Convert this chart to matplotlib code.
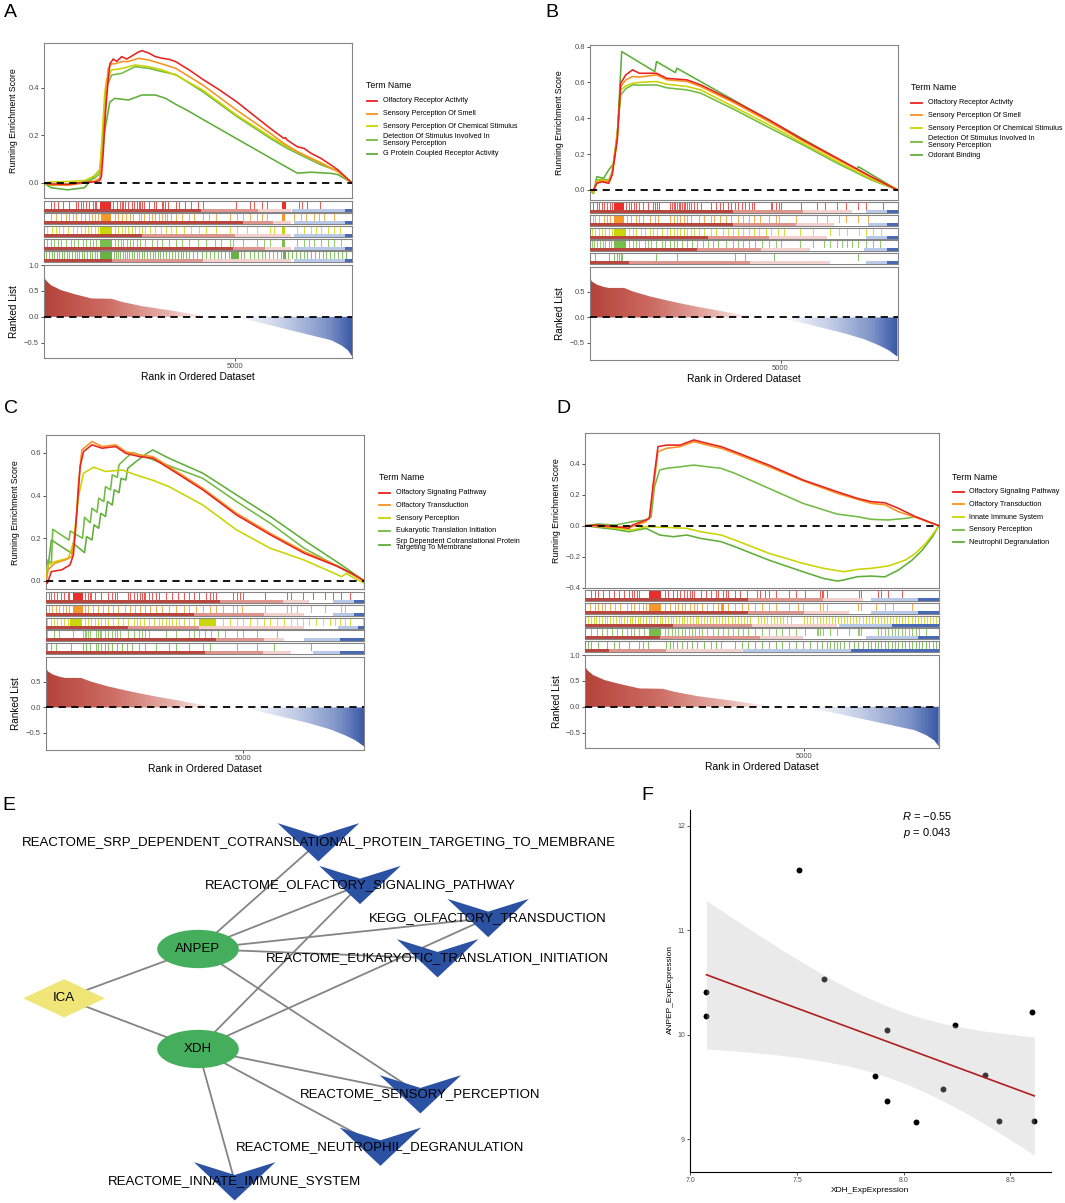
import numpy as np
import matplotlib
matplotlib.use('Agg')
import matplotlib.pyplot as plt
from matplotlib import font_manager as fm
from matplotlib.patches import Polygon, Ellipse, Rectangle
from matplotlib.lines import Line2D
from matplotlib.colors import LinearSegmentedColormap
from matplotlib.ticker import FuncFormatter

# ------------------------------------------------------------------ data
N_RANK = 8070
SET_COLORS = ['#E8231F', '#F7931E', '#C9D400', '#72BB43', '#5FAE3A']

A_terms = ["Olfactory Receptor Activity", "Sensory Perception Of Smell",
           "Sensory Perception Of Chemical Stimulus",
           "Detection Of Stimulus Involved In\nSensory Perception",
           "G Protein Coupled Receptor Activity"]
B_terms = ["Olfactory Receptor Activity", "Sensory Perception Of Smell",
           "Sensory Perception Of Chemical Stimulus",
           "Detection Of Stimulus Involved In\nSensory Perception",
           "Odorant Binding"]
C_terms = ["Olfactory Signaling Pathway", "Olfactory Transduction", "Sensory Perception",
           "Eukaryotic Translation Initiation",
           "Srp Dependent Cotranslational Protein\nTargeting To Membrane"]
D_terms = ["Olfactory Signaling Pathway", "Olfactory Transduction", "Innate Immune System",
           "Sensory Perception", "Neutrophil Degranulation"]

# running enrichment score curves (rank, ES)
A_es_x = [
    [0,177,619,1062,1327,1460,1504,1549,1593,1637,1681,1726,1814,1903,2035,2168,2345,2478,2566,2743,2920,3097,3274,3451,3805,4159,4601,5044,5486,5929,6283,6327,6371,6637,6814,6991,7256,7522,7699,8070],
    [0,177,619,1062,1327,1460,1549,1637,1681,1770,1858,2035,2212,2478,2743,3097,3451,3805,4159,5044,5929,6283,6637,7256,7699,8070],
    [0,177,619,1062,1327,1460,1504,1593,1637,1770,2035,2389,2743,3097,3451,4159,5044,5929,6371,6814,7256,7699,8070],
    [0,177,619,1062,1327,1460,1549,1637,1770,2035,2389,2743,3097,3451,4159,5044,5929,6371,6814,7256,7699,8070],
    [0,177,619,1062,1327,1460,1504,1593,1726,1858,2212,2566,2920,3186,3451,3805,4159,5044,5929,6371,6637,6991,7522,7699,8070]]
A_es_y = [
    [0,-0.004,-0.006,0.002,0.004,0.010,0.027,0.12,0.25,0.35,0.43,0.50,0.52,0.51,0.53,0.52,0.537,0.55,0.555,0.545,0.53,0.523,0.519,0.509,0.474,0.435,0.39,0.341,0.285,0.229,0.187,0.19,0.18,0.152,0.145,0.125,0.103,0.075,0.055,0],
    [0,-0.008,-0.01,0.0,0.008,0.02,0.15,0.40,0.48,0.50,0.50,0.509,0.51,0.523,0.516,0.499,0.481,0.446,0.411,0.306,0.208,0.166,0.131,0.083,0.048,0],
    [0,0.004,0.006,0.01,0.03,0.055,0.15,0.38,0.43,0.474,0.48,0.495,0.488,0.474,0.453,0.39,0.285,0.194,0.152,0.117,0.085,0.048,0],
    [0,-0.01,-0.005,0.005,0.02,0.04,0.20,0.40,0.453,0.46,0.488,0.481,0.467,0.455,0.383,0.28,0.187,0.145,0.11,0.076,0.05,0],
    [0,-0.02,-0.029,-0.02,0.03,0.055,0.083,0.22,0.34,0.355,0.348,0.369,0.369,0.355,0.33,0.30,0.267,0.186,0.105,0.065,0.041,0.045,0.04,0.035,0]]

B_rank_common = [0,89,179,313,492,582,716,805,939,1118,1297,1745,2013,2550,2908,3802,4697,5592,6487,7381,8070]
B_es_x = [B_rank_common, B_rank_common, B_rank_common, B_rank_common,
          [0,89,179,358,492,626,716,832,1700,1745,2237,2281,7006,7041,8070]]
B_es_y = [
    [0,0.0,0.037,0.046,0.037,0.084,0.28,0.595,0.642,0.67,0.651,0.651,0.623,0.614,0.586,0.493,0.391,0.279,0.177,0.074,0],
    [0,-0.01,0.045,0.05,0.045,0.09,0.30,0.577,0.614,0.633,0.63,0.642,0.615,0.605,0.577,0.484,0.381,0.273,0.171,0.071,0],
    [0,-0.015,0.05,0.055,0.05,0.095,0.31,0.558,0.58,0.595,0.6,0.605,0.59,0.577,0.558,0.461,0.363,0.26,0.158,0.061,0],
    [0,-0.02,0.055,0.06,0.055,0.10,0.32,0.53,0.565,0.586,0.585,0.586,0.57,0.558,0.54,0.447,0.348,0.251,0.149,0.056,0],
    [0,-0.019,0.074,0.065,0.112,0.149,0.298,0.772,0.66,0.716,0.655,0.679,0.115,0.13,0]]

C_es_x = [
    [0,34,137,394,608,694,780,865,951,1165,1422,1765,2022,2365,2707,3118,3975,4832,5688,6545,7402,7745,8070],
    [0,51,223,480,651,737,822,908,1165,1422,1765,2022,2365,2707,3118,3975,4832,5688,6545,7402,8070],
    [0,51,223,565,694,822,951,1208,1508,1936,2279,2690,3118,3975,4832,5688,6545,7402,7488,7616,7745,8070],
    [0,51,137,171,583,617,925,977,1122,1165,1294,1337,1465,1508,1636,1679,1808,1850,2022,2193,2450,3975,4832,5688,6545,7402,8070],
    [0,51,137,651,685,977,1028,1165,1217,1337,1388,1508,1559,1679,1731,1850,1902,2022,2073,2279,2536,2707,3118,3975,4832,5688,6717,7402,8070]]
C_es_y = [
    [0,-0.011,0.044,0.052,0.075,0.122,0.317,0.536,0.606,0.638,0.622,0.630,0.598,0.583,0.575,0.528,0.427,0.309,0.216,0.13,0.067,0.036,0],
    [0,0.052,0.083,0.098,0.114,0.208,0.458,0.614,0.653,0.630,0.638,0.606,0.591,0.583,0.536,0.434,0.317,0.223,0.1375,0.07,0],
    [0,0.075,0.091,0.106,0.177,0.395,0.505,0.533,0.513,0.52,0.497,0.473,0.442,0.356,0.239,0.153,0.098,0.028,0.02,0.036,0.02,-0.011],
    [0,0.098,0.080,0.242,0.192,0.234,0.200,0.298,0.273,0.341,0.322,0.388,0.372,0.442,0.427,0.497,0.486,0.544,0.575,0.602,0.586,0.481,0.372,0.270,0.153,0.067,0],
    [0,0.067,0.192,0.130,0.177,0.133,0.208,0.192,0.263,0.247,0.317,0.302,0.372,0.356,0.427,0.414,0.481,0.473,0.528,0.559,0.595,0.614,0.575,0.505,0.403,0.302,0.169,0.086,0]]

D_rank_common = [0,296,686,997,1075,1387,1465,1542,1659,1854,2166,2477,2789,3100,3412,4191,4970,5749,6216,6528,6840,7151,7541,8070]
D_es_x = [D_rank_common, D_rank_common,
          [0,296,686,1075,1387,1854,2321,2633,3100,3412,4191,4970,5437,5905,6216,6528,6918,7307,7541,7774,8008,8070],
          [0,296,686,1075,1387,1503,1581,1698,1854,2166,2477,2789,3100,3412,4191,4970,5749,6216,6528,6918,7307,7541,8070],
          [0,296,686,997,1387,1698,2010,2321,2633,3100,3412,4191,4970,5437,5749,5905,6216,6528,6840,7151,7463,7697,7930,8070]]
D_es_y = [
    [0,0.004,-0.006,-0.017,0.004,0.037,0.047,0.25,0.51,0.52,0.52,0.553,0.531,0.51,0.477,0.391,0.295,0.219,0.176,0.155,0.148,0.112,0.058,0],
    [0,-0.006,-0.011,-0.006,-0.006,0.026,0.058,0.209,0.477,0.499,0.51,0.542,0.52,0.499,0.467,0.381,0.29,0.209,0.17,0.144,0.135,0.09,0.054,0],
    [0,-0.002,-0.017,-0.028,-0.006,-0.011,-0.017,-0.039,-0.06,-0.092,-0.178,-0.243,-0.275,-0.297,-0.282,-0.275,-0.26,-0.222,-0.178,-0.114,-0.028,0],
    [0,0.011,0.004,0.026,0.037,0.058,0.252,0.359,0.37,0.38,0.391,0.38,0.37,0.338,0.241,0.144,0.075,0.058,0.041,0.037,0.047,0.058,0],
    [0,-0.011,-0.024,-0.039,-0.017,-0.06,-0.071,-0.06,-0.082,-0.103,-0.135,-0.222,-0.297,-0.34,-0.357,-0.35,-0.329,-0.325,-0.33,-0.286,-0.222,-0.157,-0.071,0]]

# gene-set hit ranks (barcode strips) and dense hit blocks
A_hits = [
    [180,270,370,490,660,840,900,970,1020,1110,1190,1280,1330,1370,1810,1900,1990,2040,2080,2120,2210,2300,2370,2430,2480,2520,2570,2610,2740,2880,2940,3100,3120,3170,3260,3450,3540,3700,3850,4030,4160,5030,5400,5490,5710,5840,6680,6750,6900,7240],
    [177,310,442,575,664,752,841,973,1062,1168,1257,1345,1416,1858,1947,2035,2142,2257,2345,2478,2549,2611,2744,2832,2920,3009,3097,3159,3230,3319,3451,3628,3805,3938,4159,4336,4513,4867,5044,5221,5398,5575,5708,5840,6549,6726,6859,7080,7212,7345,7611],
    [88,221,310,398,487,619,752,867,973,1062,1150,1239,1327,1416,1858,1947,2035,2124,2212,2301,2389,2478,2566,2655,2788,2920,3053,3186,3319,3451,3673,3849,4071,4248,4513,4867,5044,5310,5575,5929,6018,6637,6814,6991,7124,7257,7434,7611,7743],
    [88,177,265,354,442,575,708,796,885,1018,1106,1195,1283,1372,1858,1947,2018,2080,2168,2257,2345,2434,2522,2655,2832,2965,3097,3274,3451,3628,3805,4026,4248,4469,4646,4867,4956,5221,5575,5752,5929,6637,6814,6947,7080,7257,7434,7611,7788],
    [60,130,200,260,330,400,470,530,600,660,730,800,870,930,1000,1060,1130,1200,1260,1330,1400,1830,1890,1950,2000,2060,2120,2180,2240,2300,2370,2430,2500,2560,2620,2700,2780,2850,2900,2980,3050,3120,3200,3280,3350,3420,3500,3580,3650,3720,3800,3900,4000,4150,4250,4350,4450,4550,4650,4750,4850,5150,5250,5400,5500,5600,5700,5800,5900,6000,6100,6200,6400,6500,6600,6700,6800,6900,7000,7100,7200,7300,7400,7500,7600,7700,7800,7900]]
A_spans = [[(1480,1750),(6240,6330)], [(1487,1752),(6238,6327)], [(1460,1770),(6238,6327)],
           [(1460,1770),(6238,6327)], [(1460,1770),(4900,5100),(6250,6350)]]

B_hits = [
    [89,179,224,313,358,447,537,582,939,1029,1074,1163,1208,1297,1387,1521,1655,1700,1763,1816,2103,2147,2192,2237,2281,2326,2371,2416,2460,2505,2550,2595,2639,2729,2818,2908,3176,3310,3400,3489,3624,3713,3802,3892,3981,4071,4160,4250,4295,4742,4787,4876,4966,5010,5547,5950,6173,6487,6711,7023,7247,7694],
    [89,134,224,358,447,537,984,1074,1208,1297,1387,1566,1700,1789,2103,2192,2281,2371,2460,2550,2639,2863,2997,3176,3266,3400,3579,3713,3892,4026,4160,4295,4474,4697,4876,4966,5413,5950,6218,6532,6711,7023,7292],
    [45,134,224,313,403,492,582,1029,1118,1208,1342,1432,1566,1655,1763,1879,2013,2103,2192,2281,2371,2460,2550,2639,2729,2863,2997,3176,3310,3489,3624,3758,3892,4026,4160,4295,4429,4608,4742,4921,5100,5503,5860,6308,6532,6755,7068,7247,7426,7650],
    [45,116,179,268,331,403,492,564,1029,1118,1208,1297,1432,1521,1610,1745,1879,1968,2103,2192,2281,2416,2550,2684,2818,2953,3087,3221,3355,3579,3758,3892,4026,4160,4339,4518,4697,4876,5010,5503,5860,6129,6308,6487,6621,6755,6889,7023,7247,7426,7605],
    [134,492,626,716,760,805,850,1745,2281,3802,4071,4831,7023]]
B_spans = [[(626,895)], [(626,895)], [(626,939)], [(626,939)], []]

C_hits = [
    [77,120,206,291,377,463,548,591,977,1062,1105,1148,1234,1405,1576,1662,1748,1791,2090,2133,2219,2304,2390,2433,2476,2519,2604,2690,2776,2861,3033,3204,3333,3504,3632,3761,3889,4061,4146,4232,4318,4746,4832,4917,5003,5560,6117,6202,6502,6759,7059,7273,7488,7702],
    [77,163,248,334,420,505,591,977,1062,1191,1319,1448,1576,1705,1833,2005,2133,2262,2390,2519,2647,2776,2947,3118,3290,3504,3632,3804,3975,4146,4318,4489,4746,4832,4960,5560,6117,6202,6374,6717,7059,7488,7573],
    [34,120,206,291,377,463,548,977,1062,1148,1234,1319,1405,1491,1576,1705,1833,1962,2090,2219,2304,2390,2476,2604,2733,2861,2947,3033,3118,3204,3290,3375,3504,3632,3761,4489,4660,4832,5003,5174,5346,5517,5688,5860,6031,6202,6374,6502,6674,6845,7016,7188,7316,7445,7573,7702,8044],
    [34,206,334,677,934,977,1020,1062,1105,1277,1319,1362,1405,1491,1576,1662,1748,1791,1876,2090,2219,2347,2433,2519,2604,3033,3290,3632,3761,3889,4018,4189,4360,4532,4832,5003,5346,5860],
    [34,120,248,634,934,1020,1105,1277,1319,1405,1491,1576,1662,1791,1919,2048,2176,2347,2519,2776,3118,3290,3632,3975,4146,4832,5346,5774,6717]]
C_spans = [[(677,934)], [(677,934)], [(600,900),(3889,4318)], [], []]

D_hits = [
    [140,218,296,413,530,647,763,880,997,1075,1114,1192,1231,1815,1893,2010,2088,2166,2244,2321,2399,2438,2477,2633,2750,2867,2984,3023,3139,3217,3256,3412,3529,3685,3918,3996,4113,4191,4347,4658,4814,5009,5359,5398,5437,5515,6255,6294,6684,6762,6918,7229],
    [101,218,296,374,452,569,686,802,958,1036,1114,1231,1309,1387,1815,1932,2049,2127,2205,2283,2399,2477,2555,2672,2789,2906,3023,3256,3412,3568,3724,3879,4035,4191,4347,4658,4853,4970,5359,5437,5515,6216,6294,6645,6840,7034,7463],
    [60,120,190,250,320,380,440,500,570,630,700,760,820,880,950,1010,1070,1130,1200,1260,1320,1390,1450,1510,1570,1640,1700,1760,1820,1890,1950,2010,2070,2140,2200,2260,2330,2390,2450,2520,2580,2640,2700,2780,2850,2920,2990,3060,3130,3200,3270,3340,3410,3480,3550,3620,3690,3760,3950,4020,4090,4160,4230,4300,4370,4440,4520,4600,4700,5000,5070,5140,5210,5280,5350,5420,5490,5560,5630,5700,5770,5840,5910,5980,6050,6120,6190,6260,6330,6400,6470,6540,6610,6680,6750,6820,6890,6960,7030,7100,7170,7240,7310,7380,7450,7520,7590,7660,7730,7800,7870,7940,8010],
    [140,257,374,491,608,725,841,958,1036,1114,1231,1348,1815,1893,1971,2049,2127,2205,2283,2360,2438,2516,2594,2672,2789,2906,3023,3139,3256,3373,3490,3607,3724,3879,4035,4191,4347,4503,4658,4814,5009,5281,5320,5359,5437,5593,5749,6022,6216,6255,6294,6684,6762,6840,6918,6996,7073,7151,7229,7307,7385,7463,7541,7619,7774],
    [62,140,296,491,647,763,997,1231,1309,1426,1854,1932,2010,2088,2205,2321,2438,2555,2711,2867,2984,3100,3412,3568,3724,3879,4035,4191,4347,4503,4658,4814,4970,5126,5281,5398,5515,5593,5671,5749,5827,5905,6022,6138,6216,6333,6450,6528,6606,6684,6762,6840,6918,6996,7073,7151,7229,7307,7385,7463,7541,7619,7697,7774,7852,7930,8008]]
D_spans = [[(1465,1737)], [(1465,1737),(3100,3178)], [], [(1465,1737)], []]

# colour-band boundaries under each strip (dark red | pink | light pink | white | light blue | blue)
A_bands = [[4115,5619,6460,6504,7876],[5221,6000,6460,6548,7876],[2566,5000,6460,6550,7876],
           [4955,5800,6460,6550,7876],[1770,4159,6460,6550,7876]]
B_bands = [[3758,5592,6889,7247,7800],[3758,5413,6397,7292,7800],[3087,4697,6218,7247,7800],
           [2818,4500,5771,7202,7800],[1029,4205,6308,7247,7800]]
C_bands = [[4403,6000,6674,7273,7800],[3761,5517,6545,7273,7800],[2090,3889,6545,7400,7900],
           [4318,5517,6031,6545,7445],[4018,5500,6202,6760,7445]]
D_bands = [[3724,5437,6333,6528,7600],[3724,5000,6022,6528,7600],[2010,3802,5749,5800,6995],
           [1698,4000,4970,6411,7600],[530,1854,3568,3600,6061]]

# ranked list metric
RANK_AD_x = [0,44,177,442,796,1239,1770,2035,2566,3274,3805,4159,4336,5044,5575,6106,6637,7168,7522,7787,7964,8070]
RANK_AD_y = [0.774,0.71,0.613,0.516,0.439,0.355,0.348,0.29,0.206,0.129,0.065,0.019,0.0,-0.013,-0.097,-0.194,-0.29,-0.387,-0.45,-0.548,-0.645,-0.761]
RANK_BC_x = [0,45,179,358,492,895,1118,1566,2013,2460,2908,3355,3803,4160,4384,5055,5592,6129,6666,7202,7560,7829,8070]
RANK_BC_y = [0.81,0.71,0.645,0.60,0.58,0.58,0.513,0.414,0.336,0.263,0.197,0.138,0.072,0.033,0.0,-0.02,-0.112,-0.21,-0.31,-0.43,-0.54,-0.64,-0.77]

# network (panel E)
NET_SRP = "REACTOME_SRP_DEPENDENT_COTRANSLATIONAL_PROTEIN_TARGETING_TO_MEMBRANE"
NET_OSP = "REACTOME_OLFACTORY_SIGNALING_PATHWAY"
NET_KEGG = "KEGG_OLFACTORY_TRANSDUCTION"
NET_EUK = "REACTOME_EUKARYOTIC_TRANSLATION_INITIATION"
NET_SEN = "REACTOME_SENSORY_PERCEPTION"
NET_NEU = "REACTOME_NEUTROPHIL_DEGRANULATION"
NET_INN = "REACTOME_INNATE_IMMUNE_SYSTEM"
NET_drug = ["ICA"]
NET_genes = ["ANPEP", "XDH"]
NET_pathways = [NET_SRP, NET_OSP, NET_KEGG, NET_EUK, NET_SEN, NET_NEU, NET_INN]
NET_edges = [("ICA", "ANPEP"), ("ICA", "XDH"),
             ("ANPEP", NET_SRP), ("ANPEP", NET_OSP), ("ANPEP", NET_KEGG), ("ANPEP", NET_EUK), ("ANPEP", NET_SEN),
             ("XDH", NET_OSP), ("XDH", NET_KEGG), ("XDH", NET_SEN), ("XDH", NET_NEU), ("XDH", NET_INN)]

# correlation (panel F)
F_xdh = [7.075, 7.075, 7.511, 7.628, 7.923, 7.867, 7.923, 8.058, 8.186, 8.239, 8.383, 8.447, 8.602, 8.613]
F_anpep = [10.409, 10.176, 11.572, 10.530, 10.048, 9.607, 9.361, 9.160, 9.479, 10.089, 9.617, 9.169, 10.217, 9.173]
F_R_text = "−0.55"
F_p_text = "0.043"
T975_DF12 = 2.1788

# ------------------------------------------------------------------ layout / style
W, H = 1065, 1203
names = {f.name for f in fm.fontManager.ttflist}
BASE = 'Liberation Sans' if 'Liberation Sans' in names else 'DejaVu Sans'
plt.rcParams['font.family'] = [BASE, 'DejaVu Sans']
plt.rcParams['mathtext.fontset'] = 'custom'
plt.rcParams['mathtext.rm'] = BASE
plt.rcParams['mathtext.it'] = BASE + ':italic'

fig = plt.figure(figsize=(W / 100, H / 100), dpi=100)
fig.patch.set_facecolor('white')


def px_axes(l, t, r, b):
    return fig.add_axes([l / W, 1 - b / H, (r - l) / W, (b - t) / H])


def ftext(x, y, s, **kw):
    return fig.text(x / W, 1 - y / H, s, **kw)


def fmt1(v, pos):
    return f"{v:.1f}".replace('-', '\u2212')


BAND_COLORS = ['#B8483F', '#DD958E', '#F2D0CD', '#FFFFFF', '#B9C8E6', '#4A6AB3']
rank_cmap = LinearSegmentedColormap.from_list(
    'rk', [(0.0, '#B5433A'), (0.2, '#CC6B62'), (0.4, '#E7B1AB'), (0.53, '#FFFFFF'),
           (0.62, '#FFFFFF'), (0.78, '#C3CDE6'), (0.92, '#7D93C8'), (1.0, '#3A58A6')])


def frame(ax, ec='#858585'):
    for s in ax.spines.values():
        s.set_color(ec)
        s.set_linewidth(0.8)
    ax.tick_params(labelsize=5.5, labelcolor='#4D4D4D', color='#333333', length=2.2, width=0.6, pad=1.5)


def gsea_panel(L, R, es_tb, strips_tb, rk_tb, xlab_y, ylab_x, es_x, es_y, es_ylim, es_ticks,
               hits, spans, bands, rk_x, rk_y, rk_ylim, rk_ticks, terms, leg):
    ax = px_axes(L, es_tb[0], R, es_tb[1])
    for xs, ys, c in reversed(list(zip(es_x, es_y, SET_COLORS))):
        ax.plot(xs, ys, color=c, lw=1.15, zorder=3)
    ax.axhline(0, color='black', lw=1.3, ls=(0, (4, 3)), zorder=4)
    ax.set_xlim(0, N_RANK)
    ax.set_ylim(*es_ylim)
    ax.set_xticks([])
    ax.set_yticks(es_ticks)
    ax.yaxis.set_major_formatter(FuncFormatter(fmt1))
    frame(ax)
    # strips
    for (t, b), h, sp, bd, c in zip(strips_tb, hits, spans, bands, SET_COLORS):
        s = px_axes(L, t, R, b)
        s.set_xlim(0, N_RANK)
        s.set_ylim(0, 1)
        s.vlines(h, 0, 1, color=c, lw=0.75, alpha=0.75, zorder=2)
        for a0, a1 in sp:
            s.axvspan(a0, a1, color=c, alpha=0.95, lw=0, zorder=2)
        edges = [0] + list(bd) + [N_RANK]
        for k in range(len(edges) - 1):
            s.add_patch(Rectangle((edges[k], 0), edges[k + 1] - edges[k], 0.27,
                                  fc=BAND_COLORS[k], ec='none', zorder=3))
        s.set_xticks([])
        s.set_yticks([])
        frame(s)
    # ranked list
    axr = px_axes(L, rk_tb[0], R, rk_tb[1])
    xs = np.asarray(rk_x, float)
    ys = np.asarray(rk_y, float)
    poly = axr.fill_between(xs, 0, ys, color='none', lw=0)
    im = axr.imshow(np.linspace(0, 1, 600)[None, :], extent=(0, N_RANK, rk_ylim[0], rk_ylim[1]),
                    aspect='auto', cmap=rank_cmap, origin='lower', zorder=1, interpolation='bilinear')
    im.set_clip_path(poly.get_paths()[0], transform=axr.transData)
    axr.axhline(0, color='black', lw=1.3, ls=(0, (4, 3)), zorder=4)
    axr.set_xlim(0, N_RANK)
    axr.set_ylim(*rk_ylim)
    axr.set_xticks([5000])
    axr.set_xticklabels(['5000'])
    axr.set_yticks(rk_ticks)
    axr.yaxis.set_major_formatter(FuncFormatter(fmt1))
    frame(axr)
    # labels
    cx = (L + R) / 2
    ftext(cx, xlab_y, 'Rank in Ordered Dataset', fontsize=7.4, ha='center', va='center')
    ftext(ylab_x, (es_tb[0] + es_tb[1]) / 2, 'Running Enrichment Score', fontsize=6.3,
          rotation=90, ha='center', va='center')
    ftext(ylab_x, (rk_tb[0] + rk_tb[1]) / 2, 'Ranked List', fontsize=7.2,
          rotation=90, ha='center', va='center')
    # legend
    (tx, ty), (lx0, lx1, txt_x), ys_leg = leg
    ftext(tx, ty, 'Term Name', fontsize=6.3, ha='left', va='center')
    for term, c, yy in zip(terms, SET_COLORS, ys_leg):
        fig.add_artist(Line2D([lx0 / W, lx1 / W], [1 - yy / H, 1 - yy / H], color=c, lw=1.3))
        ftext(txt_x, yy, term, fontsize=5.2, ha='left', va='center', linespacing=0.95)


def strips_from(top, step=12.65, hgt=11.0):
    return [(top + i * step, top + i * step + hgt) for i in range(5)]


gsea_panel(44, 352, (43.3, 197.7), strips_from(200.7), (265, 358.3), 377, 14,
           A_es_x, A_es_y, (-0.062, 0.586), [0, 0.2, 0.4],
           A_hits, A_spans, A_bands, RANK_AD_x, RANK_AD_y, (-0.80, 1.0), [-0.5, 0, 0.5, 1.0],
           A_terms, ((366, 86), (367, 377, 383), [101, 113.7, 126.3, 140, 153.7]))
gsea_panel(590, 897.5, (45.3, 200), strips_from(202.3), (267.3, 360), 379, 560,
           B_es_x, B_es_y, (-0.056, 0.807), [0, 0.2, 0.4, 0.6, 0.8],
           B_hits, B_spans, B_bands, RANK_BC_x, RANK_BC_y, (-0.836, 0.985), [-0.5, 0, 0.5],
           B_terms, ((911, 88), (911, 922, 927.5), [102.7, 115.3, 128, 141.7, 155.3]))
gsea_panel(46, 364.4, (435, 589.3), strips_from(592.3), (657.3, 750), 769, 16,
           C_es_x, C_es_y, (-0.039, 0.684), [0, 0.2, 0.4, 0.6],
           C_hits, C_spans, C_bands, RANK_BC_x, RANK_BC_y, (-0.836, 0.985), [-0.5, 0, 0.5],
           C_terms, ((378.6, 478), (379, 390, 395.5), [492.7, 505.3, 518, 531, 544.5]))
gsea_panel(585.3, 938.7, (433.3, 587.7), strips_from(590.3), (655, 748.3), 766.7, 556.6,
           D_es_x, D_es_y, (-0.40, 0.596), [-0.4, -0.2, 0, 0.2, 0.4],
           D_hits, D_spans, D_bands, RANK_AD_x, RANK_AD_y, (-0.80, 1.0), [-0.5, 0, 0.5, 1.0],
           D_terms, ((952.4, 477), (953, 964, 969.4), [491.7, 504.3, 517, 529.7, 542.3]))

# ------------------------------------------------------------------ panel E network
NET_pos = {"ICA": (64.1, 998.3), "ANPEP": (198, 949), "XDH": (198, 1049),
           NET_SRP: (318.4, 842.3), NET_OSP: (360, 885), NET_KEGG: (488.2, 918),
           NET_EUK: (437.6, 958.3), NET_SEN: (420.4, 1094.3), NET_NEU: (380.4, 1146.7),
           NET_INN: (234.7, 1181.3)}
NODE_W, NODE_H = 81.6, 38.3
axe = px_axes(0, 780, 640, 1203)
axe.set_xlim(0, 640)
axe.set_ylim(1203, 780)
axe.axis('off')
for a, b in NET_edges:
    (x1, y1), (x2, y2) = NET_pos[a], NET_pos[b]
    axe.plot([x1, x2], [y1, y2], color='#848484', lw=1.3, zorder=1, solid_capstyle='butt')
hw, hh = NODE_W / 2, NODE_H / 2
for n in NET_drug:
    x, y = NET_pos[n]
    axe.add_patch(Polygon([(x - hw, y), (x, y - hh), (x + hw, y), (x, y + hh)], closed=True,
                          fc='#EFE677', ec='none', zorder=2))
for n in NET_genes:
    x, y = NET_pos[n]
    axe.add_patch(Ellipse((x, y), NODE_W, NODE_H, fc='#45AE5C', ec='none', zorder=2))
for n in NET_pathways:
    x, y = NET_pos[n]
    axe.add_patch(Polygon([(x - hw, y - hh), (x, y - hh + NODE_H / 3), (x + hw, y - hh), (x, y + hh)],
                          closed=True, fc='#2A51A2', ec='none', zorder=2))
for n in NET_drug + NET_genes + NET_pathways:
    x, y = NET_pos[n]
    axe.text(x, y, n, fontsize=9.5, ha='center', va='center', zorder=3, color='black')

# ------------------------------------------------------------------ panel F correlation
axf = px_axes(690, 810, 1050.7, 1171.7)
fx = np.asarray(F_xdh)
fy = np.asarray(F_anpep)
axf.scatter(fx, fy, s=18, color='black', linewidths=0, zorder=2)
coef = np.polyfit(fx, fy, 1)
xg = np.linspace(fx.min(), fx.max(), 80)
yhat = np.polyval(coef, xg)
resid = fy - np.polyval(coef, fx)
n = len(fx)
s_err = np.sqrt(np.sum(resid ** 2) / (n - 2))
sxx = np.sum((fx - fx.mean()) ** 2)
se = s_err * np.sqrt(1 / n + (xg - fx.mean()) ** 2 / sxx)
axf.fill_between(xg, yhat - T975_DF12 * se, yhat + T975_DF12 * se, color='#BBBBBB', alpha=0.3, lw=0, zorder=3)
axf.plot(xg, yhat, color='#B01F1F', lw=1.2, zorder=4)
axf.set_xlim(6.998, 8.69)
axf.set_ylim(8.687, 12.15)
axf.set_xticks([7.0, 7.5, 8.0, 8.5])
axf.set_xticklabels(['7.0', '7.5', '8.0', '8.5'])
axf.set_yticks([9, 10, 11, 12])
axf.set_yticklabels(['9', '10', '11', '12'])
for side in ['top', 'right']:
    axf.spines[side].set_visible(False)
for side in ['left', 'bottom']:
    axf.spines[side].set_color('black')
    axf.spines[side].set_linewidth(0.8)
axf.tick_params(labelsize=5.0, labelcolor='#4D4D4D', color='#333333', length=2.5, width=0.6, pad=1.2)
ftext(870, 1190, 'XDH_ExpExpression', fontsize=6.0, ha='center', va='center')
ftext(670.7, 990, 'ANPEP_ExpExpression', fontsize=6.0, rotation=90, ha='center', va='center')
ftext(927, 816, r'$\mathit{R}$ = ' + F_R_text, fontsize=8, ha='center', va='center')
ftext(927, 833.3, r'$\mathit{p}$ = ' + F_p_text, fontsize=8, ha='center', va='center')

# ------------------------------------------------------------------ panel letters
for lab, x, y in [('A', 4, 4), ('B', 545, 4), ('C', 4, 400), ('D', 556, 400), ('E', 2, 797), ('F', 641, 787)]:
    ftext(x, y, lab, fontsize=14, ha='left', va='top')

fig.savefig('out.png', dpi=100, facecolor='white')
